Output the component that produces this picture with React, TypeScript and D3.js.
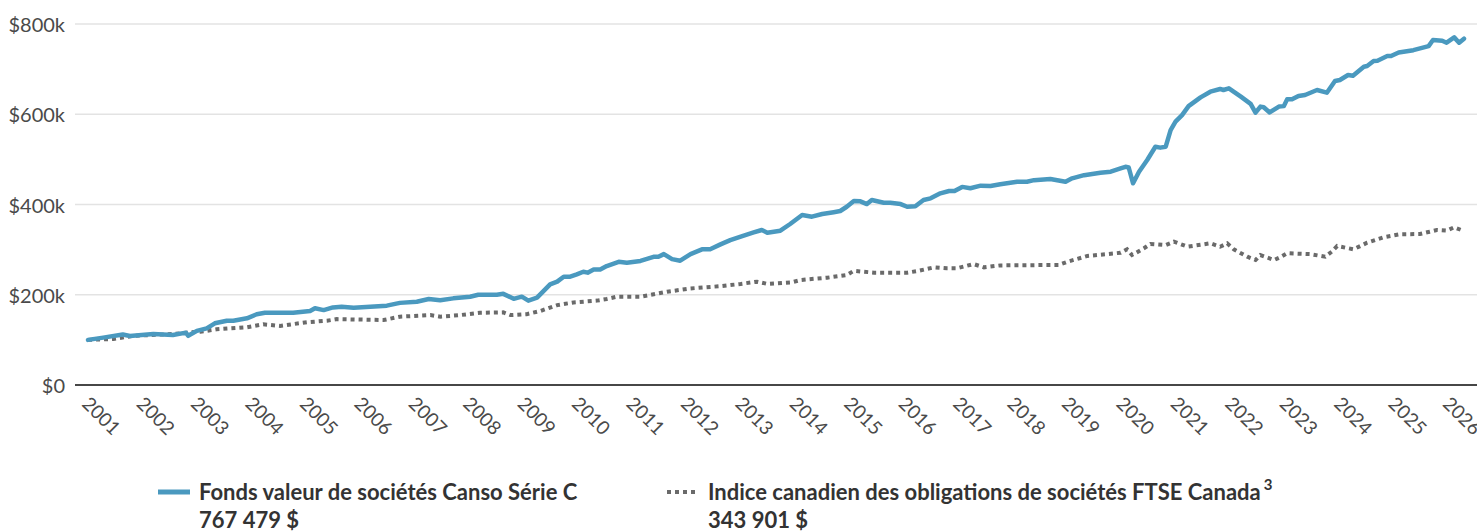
import * as d3 from 'd3';

const WIDTH = 1477;
const HEIGHT = 531;
const FONT = 'Lato, "Open Sans", sans-serif';

// plot area in page pixels
const PLOT = { left: 75, right: 1477, x0: 88, x1: 1464, top: 24, bottom: 385 };

const BLUE = '#4a99bf';
const GREY = '#6a6a6a';

// Fonds valeur de sociétés Canso Série C (valeur en milliers de $)
const fundDates = [
    2001.0, 2001.28, 2001.64, 2001.77, 2002.2, 2002.56, 2002.8, 2002.84, 2003.0, 2003.18,
    2003.33, 2003.55, 2003.67, 2003.92, 2004.1, 2004.25, 2004.77, 2005.08, 2005.17, 2005.33,
    2005.5, 2005.66, 2005.88, 2006.49, 2006.73, 2007.04, 2007.26, 2007.47, 2007.71, 2008.02,
    2008.17, 2008.51, 2008.63, 2008.82, 2008.97, 2009.09, 2009.25, 2009.49, 2009.62, 2009.74,
    2009.86, 2009.98, 2010.1, 2010.18, 2010.29, 2010.41, 2010.53, 2010.75, 2010.9, 2011.15,
    2011.39, 2011.48, 2011.58, 2011.73, 2011.88, 2012.07, 2012.28, 2012.43, 2012.62, 2012.8,
    2013.02, 2013.23, 2013.38, 2013.48, 2013.72, 2013.9, 2014.12, 2014.3, 2014.49, 2014.7,
    2014.82, 2014.94, 2015.07, 2015.19, 2015.31, 2015.4, 2015.62, 2015.74, 2015.93, 2016.05,
    2016.2, 2016.35, 2016.48, 2016.66, 2016.82, 2016.92, 2017.06, 2017.21, 2017.4, 2017.58,
    2017.76, 2018.07, 2018.25, 2018.38, 2018.68, 2018.96, 2019.08, 2019.3, 2019.6, 2019.79,
    2019.97, 2020.06, 2020.12, 2020.2, 2020.31, 2020.46, 2020.61, 2020.7, 2020.8, 2020.89,
    2020.98, 2021.1, 2021.22, 2021.44, 2021.62, 2021.8, 2021.86, 2021.96, 2022.18, 2022.36,
    2022.45, 2022.54, 2022.6, 2022.71, 2022.88, 2022.97, 2023.03, 2023.12, 2023.24, 2023.36,
    2023.58, 2023.76, 2023.91, 2024.0, 2024.15, 2024.24, 2024.44, 2024.5, 2024.62, 2024.69,
    2024.87, 2024.94, 2025.08, 2025.35, 2025.63, 2025.71, 2025.88, 2025.96, 2026.1, 2026.19,
    2026.28,
];
const fundValues = [
    100, 105, 112, 108.6, 113, 111, 116, 109, 120, 125.6,
    136.7, 142.5, 142.5, 147.8, 156.7, 160, 160, 164, 170, 166,
    172, 173.5, 171, 175.8, 182, 184.6, 190.6, 188, 192, 195.7,
    200, 200, 202, 191, 195.7, 187, 193.5, 223, 229, 240,
    240, 245, 251, 249, 256, 256, 263.7, 273, 271, 275,
    284, 284, 290, 279, 275.5, 290, 300.6, 301, 311.6, 321,
    330, 338, 343.5, 337.6, 342, 356.8, 376.7, 373, 379, 383,
    385.6, 395, 407.8, 407, 401, 410, 404, 404, 401, 395,
    396, 410, 413.7, 424.8, 430, 430, 439, 436, 441.7, 441,
    445, 450.5, 450.5, 454, 456.5, 450.5, 458, 465, 470.5, 472.7,
    480, 483.6, 482, 447, 472.7, 498.6, 528, 526, 528, 565,
    583.5, 598, 618, 637.5, 650, 656, 653.7, 657.5, 639, 623,
    603.5, 617, 615.5, 604, 617, 618, 633, 633, 640.5, 642.7,
    653.7, 647.8, 673.7, 676, 687, 685.4, 705.4, 707, 718, 718.7,
    729, 729, 737, 742, 751, 764.5, 763, 758.6, 770.4, 758.6,
    767.5,
];

// Indice canadien des obligations de sociétés FTSE Canada (valeur en milliers de $)
const indexDates = [
    2001.0, 2001.47, 2001.83, 2002.57, 2002.81, 2003.06, 2003.36, 2003.92, 2004.22, 2004.53,
    2005.02, 2005.39, 2005.57, 2006.43, 2006.73, 2007.29, 2007.47, 2007.84, 2008.2, 2008.63,
    2008.76, 2009.06, 2009.31, 2009.62, 2009.92, 2010.35, 2010.53, 2010.72, 2011.15, 2011.64,
    2012.07, 2012.62, 2012.99, 2013.29, 2013.48, 2013.93, 2014.09, 2014.58, 2014.94, 2015.07,
    2015.44, 2015.8, 2016.05, 2016.26, 2016.54, 2016.78, 2016.96, 2017.27, 2017.46, 2017.76,
    2018.83, 2018.99, 2019.36, 2019.97, 2020.09, 2020.18, 2020.4, 2020.52, 2020.8, 2020.95,
    2021.2, 2021.62, 2021.8, 2021.93, 2022.05, 2022.3, 2022.45, 2022.54, 2022.79, 2022.9,
    2023.03, 2023.46, 2023.73, 2023.85, 2023.95, 2024.25, 2024.5, 2024.8, 2025.1, 2025.47,
    2025.65, 2025.78, 2025.96, 2026.1, 2026.22,
];
const indexValues = [
    100, 102, 109, 113, 116, 118, 123.4, 128, 134.5, 131,
    139, 142.5, 146, 144, 151.4, 155, 151.4, 155, 160, 161,
    155, 157, 164, 177, 183, 187, 190.6, 195.7, 195.7, 206.7,
    214, 219, 224, 229, 224, 227.6, 232.7, 237.8, 243.8, 253,
    249, 249, 249, 253, 260.7, 258.5, 258.5, 268, 260.7, 265,
    266, 273, 286, 293, 300.7, 288, 303, 312.5, 310, 317.6,
    306.5, 314, 306.5, 314, 300.7, 284.3, 277, 288, 277, 283,
    292, 290, 284.3, 295.4, 308, 300.7, 315.3, 327.3, 334, 334.6,
    339.7, 343.5, 342, 349.5, 343.9,
];

const yTicks = [0, 200, 400, 600, 800];
const yTickLabels = ['$0', '$200k', '$400k', '$600k', '$800k'];
const years = d3.range(2001, 2027);

const legendNames = [
    'Fonds valeur de sociétés Canso Série C',
    'Indice canadien des obligations de sociétés FTSE Canada',
];
const legendTotals = ['767 479 $', '343 901 $'];

export default function App() {
    const xScale = d3.scaleLinear().domain([2001, 2026.28]).range([PLOT.x0, PLOT.x1]);
    const yScale = d3.scaleLinear().domain([0, 800]).range([PLOT.bottom, PLOT.top]);

    const line = d3
        .line<[number, number]>()
        .x(d => xScale(d[0]))
        .y(d => yScale(d[1]));

    const fundPath = line(fundDates.map((t, i) => [t, fundValues[i]]));
    const indexPath = line(indexDates.map((t, i) => [t, indexValues[i]]));

    return (
        <svg
            width={WIDTH}
            height={HEIGHT}
            style={{ position: 'absolute', left: 0, top: 0, fontFamily: FONT }}
        >
            {/* grid + y labels */}
            {yTicks.map((v, i) => (
                <g key={v}>
                    <line
                        x1={PLOT.left}
                        x2={PLOT.right}
                        y1={yScale(v)}
                        y2={yScale(v)}
                        stroke={v === 0 ? '#474747' : '#e3e3e3'}
                        strokeWidth={v === 0 ? 2 : 1.5}
                    />
                    <text
                        x={65}
                        y={yScale(v)}
                        textAnchor="end"
                        dominantBaseline="central"
                        fontSize={20}
                        fill="#4a4a4a"
                    >
                        {yTickLabels[i]}
                    </text>
                </g>
            ))}

            {/* rotated year labels */}
            {years.map(y => (
                <text
                    key={y}
                    transform={`translate(${xScale(y) - 7},${405}) rotate(45)`}
                    fontSize={19}
                    fill="#4a4a4a"
                >
                    {y}
                </text>
            ))}

            <path
                d={indexPath ?? ''}
                fill="none"
                stroke={GREY}
                strokeWidth={4}
                strokeDasharray="4,4"
            />
            <path
                d={fundPath ?? ''}
                fill="none"
                stroke={BLUE}
                strokeWidth={4.5}
                strokeLinejoin="round"
                strokeLinecap="round"
            />

            {/* legend */}
            <g fill="#333" fontWeight="bold" fontSize={22}>
                <line x1={158} x2={190} y1={492} y2={492} stroke={BLUE} strokeWidth={5} />
                <text x={199} y={500}>{legendNames[0]}</text>
                <text x={199} y={528}>{legendTotals[0]}</text>

                <line
                    x1={667}
                    x2={698}
                    y1={492}
                    y2={492}
                    stroke={GREY}
                    strokeWidth={4}
                    strokeDasharray="4,4"
                />
                <text x={708} y={500}>
                    {legendNames[1]}
                    <tspan fontSize={15} dy={-10} dx={3}>3</tspan>
                </text>
                <text x={708} y={528}>{legendTotals[1]}</text>
            </g>
        </svg>
    );
}
